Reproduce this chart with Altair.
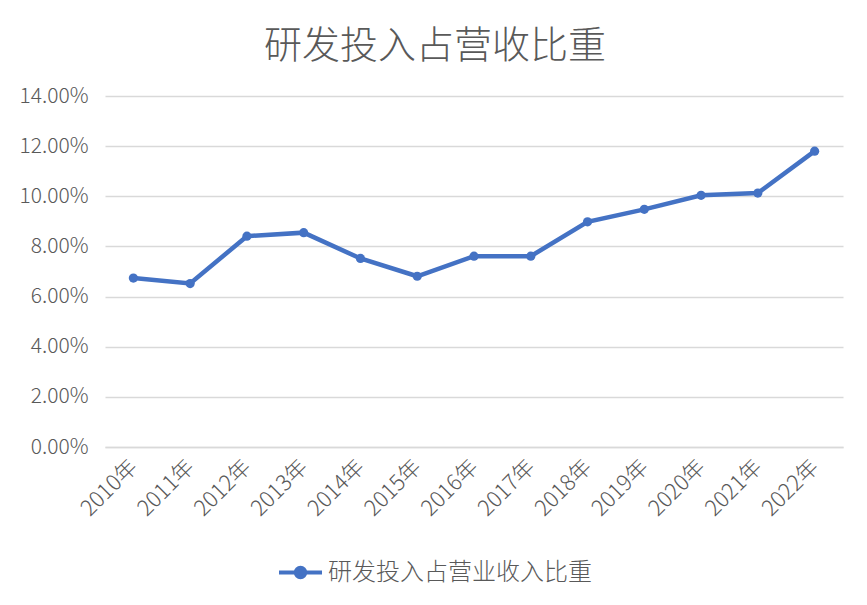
import altair as alt
import pandas as pd

years = ["2010年", "2011年", "2012年", "2013年", "2014年", "2015年", "2016年",
         "2017年", "2018年", "2019年", "2020年", "2021年", "2022年"]
ratios = [0.0674, 0.0652, 0.0841, 0.0855, 0.0752, 0.0681, 0.0761,
          0.0761, 0.0898, 0.0948, 0.1004, 0.1013, 0.1180]
series_name = "研发投入占营业收入比重"
y_ticks = [0, 0.02, 0.04, 0.06, 0.08, 0.10, 0.12, 0.14]

df = pd.DataFrame({"year": years, "ratio": ratios, "series": [series_name] * len(years)})

FONT = "Noto Sans CJK SC"
BLUE = "#4472C4"
GRAY = "#595959"

legend_symbol = "M -1 0 L 1 0 M 0.22 0 A 0.22 0.22 0 1 1 -0.22 0 A 0.22 0.22 0 1 1 0.22 0 Z"

chart = alt.Chart(df).mark_line(
    strokeWidth=4.5,
    point=alt.OverlayMarkDef(filled=True, size=85, color=BLUE),
).encode(
    x=alt.X("year:N", sort=years, title=None,
            scale=alt.Scale(paddingOuter=0.5),
            axis=alt.Axis(labelAngle=-45, labelFontSize=22, labelColor=GRAY,
                          labelFont=FONT, labelFontWeight=300, ticks=False, grid=False,
                          domainColor="#d9d9d9", domainWidth=1.3,
                          labelPadding=16, labelAlign="right", labelBaseline="middle")),
    y=alt.Y("ratio:Q", title=None,
            scale=alt.Scale(domain=[0, 0.14], nice=False),
            axis=alt.Axis(values=y_ticks, format=".2%", labelFontSize=21,
                          labelColor=GRAY, labelFont=FONT, labelFontWeight=300,
                          ticks=False, domain=False,
                          gridColor="#d9d9d9", gridWidth=1.3, labelPadding=17)),
    color=alt.Color("series:N", scale=alt.Scale(domain=[series_name], range=[BLUE]),
                    legend=alt.Legend(title=None, orient="none", legendX=172, legendY=453,
                                      labelFontSize=24, labelColor=GRAY, labelFont=FONT,
                                      labelFontWeight=300, labelLimit=0,
                                      symbolType=legend_symbol, symbolSize=1849,
                                      symbolStrokeWidth=4, symbolFillColor=BLUE,
                                      symbolStrokeColor=BLUE, labelOffset=4)),
).properties(
    width=738,
    height=351,
    background="white",
    title=alt.TitleParams("研发投入占营收比重", fontSize=38, font=FONT, color=GRAY,
                          fontWeight=300, anchor="middle", offset=19, dx=-39),
    autosize=alt.AutoSizeParams(type="none"),
    padding={"left": 97, "top": 88, "right": 16, "bottom": 150},
).configure_view(stroke=None)

chart.save("out.html", embed_options={"renderer": "svg", "actions": False})
